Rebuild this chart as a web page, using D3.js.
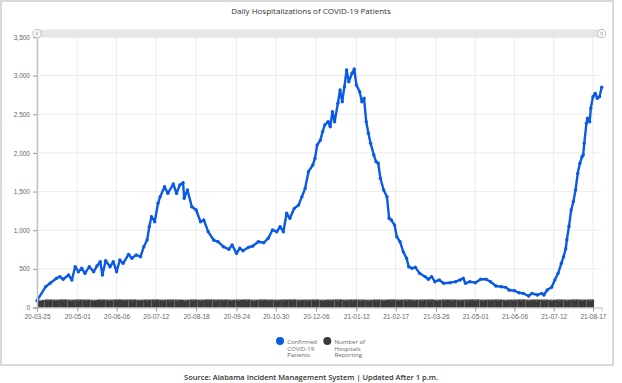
<!DOCTYPE html>
<html lang="en">
<head>
  <meta charset="utf-8" />
  <title>Daily Hospitalizations of COVID-19 Patients</title>
  <script src="https://d3js.org/d3.v7.min.js"></script>
  <style>
body {
  margin: 0;
  background: #fff;
  font-family: 'Open Sans', sans-serif;
}
svg {
  display: block;
}
.tick text {
  fill: #666;
  font-size: 6.5px;
}
  </style>
</head>
<body>
  <svg id="chart" width="622" height="383"></svg>

  <script>
    // confirmed COVID-19 patients in hospital
    var dates = [
      '2020-03-25','2020-04-02','2020-04-06','2020-04-12','2020-04-15','2020-04-18','2020-04-23','2020-04-26','2020-04-29',
      '2020-05-02','2020-05-05','2020-05-08','2020-05-12','2020-05-16','2020-05-19','2020-05-22','2020-05-24','2020-05-27','2020-05-31',
      '2020-06-03','2020-06-06','2020-06-09','2020-06-12','2020-06-17','2020-06-20','2020-06-24','2020-06-28',
      '2020-07-01','2020-07-04','2020-07-06','2020-07-08','2020-07-11','2020-07-14','2020-07-16','2020-07-20','2020-07-23','2020-07-28','2020-07-31',
      '2020-08-03','2020-08-06','2020-08-07','2020-08-10','2020-08-14','2020-08-18','2020-08-22','2020-08-25','2020-08-29',
      '2020-09-03','2020-09-07','2020-09-12','2020-09-17','2020-09-20','2020-09-24','2020-09-27','2020-09-30',
      '2020-10-05','2020-10-09','2020-10-14','2020-10-19','2020-10-23','2020-10-27','2020-10-31',
      '2020-11-03','2020-11-06','2020-11-09','2020-11-12','2020-11-16','2020-11-20','2020-11-23','2020-11-26','2020-11-29',
      '2020-12-03','2020-12-05','2020-12-07','2020-12-10','2020-12-12','2020-12-14','2020-12-17','2020-12-19','2020-12-21','2020-12-23','2020-12-26','2020-12-28','2020-12-30',
      '2021-01-01','2021-01-03','2021-01-05','2021-01-08','2021-01-10','2021-01-12','2021-01-15','2021-01-17','2021-01-19','2021-01-21','2021-01-23','2021-01-25','2021-01-28','2021-01-30',
      '2021-02-01','2021-02-03','2021-02-06','2021-02-09','2021-02-11','2021-02-13','2021-02-16','2021-02-18','2021-02-21','2021-02-24','2021-02-27',
      '2021-03-01','2021-03-04','2021-03-07','2021-03-11','2021-03-16','2021-03-19','2021-03-22','2021-03-25','2021-03-29',
      '2021-04-02','2021-04-08','2021-04-13','2021-04-17','2021-04-20','2021-04-22','2021-04-26',
      '2021-05-01','2021-05-06','2021-05-11','2021-05-15','2021-05-20','2021-05-25','2021-05-29',
      '2021-06-01','2021-06-06','2021-06-10','2021-06-14','2021-06-19','2021-06-22','2021-06-27',
      '2021-07-01','2021-07-03','2021-07-06','2021-07-10','2021-07-13','2021-07-16','2021-07-19','2021-07-21','2021-07-23','2021-07-24','2021-07-26','2021-07-28','2021-07-30',
      '2021-08-01','2021-08-03','2021-08-05','2021-08-07','2021-08-08','2021-08-09','2021-08-11','2021-08-12','2021-08-14','2021-08-15','2021-08-17','2021-08-19','2021-08-21','2021-08-23','2021-08-25'
    ];
    var confirmed = [
      88,270,313,378,399,365,420,356,528,
      463,507,442,528,463,537,593,420,606,528,
      593,463,615,572,688,637,679,657,
      787,873,1045,1175,1110,1348,1434,1563,1477,1598,1477,
      1585,1615,1413,1520,1304,1261,1110,1132,981,
      873,851,787,753,809,701,766,735,
      779,796,851,838,895,1003,981,
      1045,981,1219,1154,1283,1326,1434,1542,1757,
      1844,1930,2102,2167,2275,2361,2404,2339,2533,2404,2642,2814,2663,
      2857,3073,2921,3030,3086,2879,2792,2663,2707,2404,2254,2124,1973,1887,
      1866,1672,1520,1434,1154,1132,1067,916,851,720,637,
      528,507,520,442,399,365,399,334,356,
      313,321,334,356,378,313,334,
      321,365,365,334,278,269,261,
      226,217,191,183,149,183,162,
      183,162,226,261,356,442,572,657,760,873,1050,1261,1369,
      1520,1736,1866,1951,1973,2124,2383,2448,2404,2577,2728,2771,2707,2728,2850
    ];

    // number of hospitals reporting, one value per week starting 2020-03-25
    var hospitalWeekStart = '2020-03-25';
    var hospitals = [
      98,104,102,105,101,104,103,100,104,102,105,103,104,101,103,105,102,104,103,101,
      104,102,105,103,104,102,103,105,101,104,103,102,104,105,102,103,104,101,103,105,
      102,104,103,101,104,102,105,103,104,102,103,105,101,104,103,102,104,105,102,103,
      104,101,103,105,102,104,103,101,104,102,105,103,104
    ];

    var xTicks = ['2020-03-25','2020-05-01','2020-06-06','2020-07-12','2020-08-18','2020-09-24','2020-10-30',
                  '2020-12-06','2021-01-12','2021-02-17','2021-03-26','2021-05-01','2021-06-06','2021-07-12','2021-08-17'];
    var yTicks = [0, 500, 1000, 1500, 2000, 2500, 3000, 3500];

    var parse = d3.timeParse('%Y-%m-%d');
    var data = dates.map((d, i) => ({ date: parse(d), value: confirmed[i] }));
    var start = parse(hospitalWeekStart);
    var hosp = hospitals.map((v, i) => ({ date: d3.timeDay.offset(start, i * 7), value: v }));

    var svg = d3.select('#chart');

    // outer frame
    svg.append('rect')
      .attr('x', 1).attr('y', 1)
      .attr('width', 612).attr('height', 364)
      .attr('fill', '#fff')
      .attr('stroke', '#d9d9d9')
      .attr('stroke-width', 2);

    var plotL = 37, plotR = 601.7, plotT = 37, plotB = 307.5;

    var x = d3.scaleTime()
      .domain([data[0].date, data[data.length - 1].date])
      .range([plotL, plotR]);
    var y = d3.scaleLinear()
      .domain([0, 3500])
      .range([plotB, plotT]);

    // grid
    svg.append('g')
      .selectAll('line')
      .data(xTicks.map(parse))
      .enter().append('line')
      .attr('x1', (d) => x(d)).attr('x2', (d) => x(d))
      .attr('y1', plotT).attr('y2', plotB)
      .attr('stroke', '#ececec');
    svg.append('g')
      .selectAll('line')
      .data(yTicks)
      .enter().append('line')
      .attr('x1', plotL).attr('x2', plotR)
      .attr('y1', (d) => y(d)).attr('y2', (d) => y(d))
      .attr('stroke', '#ececec');

    // hospitals reporting, drawn as weekly columns
    var hospG = svg.append('g');
    hospG.selectAll('rect')
      .data(hosp)
      .enter().append('rect')
      .attr('x', (d) => x(d.date))
      .attr('width', (d) => Math.max(0, Math.min(x(d3.timeDay.offset(d.date, 7)), plotR) - x(d.date)))
      .attr('y', (d) => y(d.value))
      .attr('height', (d) => plotB - y(d.value))
      .attr('fill', '#3a3a3a');
    hospG.selectAll('line')
      .data(hosp)
      .enter().append('line')
      .attr('x1', (d) => x(d.date) + 2)
      .attr('x2', (d) => Math.min(x(d.date) + 5, plotR))
      .attr('y1', (d) => y(d.value) + 0.5)
      .attr('y2', (d) => y(d.value) + 0.5)
      .attr('stroke', '#8a8a8a')
      .attr('stroke-width', 1);

    // confirmed patients line
    var line = d3.line()
      .x((d) => x(d.date))
      .y((d) => y(d.value));
    svg.append('path')
      .datum(data)
      .attr('d', line)
      .attr('fill', 'none')
      .attr('stroke', '#0a5ae6')
      .attr('stroke-width', 2.4)
      .attr('stroke-linejoin', 'round');
    svg.append('g')
      .selectAll('circle')
      .data(data)
      .enter().append('circle')
      .attr('cx', (d) => x(d.date))
      .attr('cy', (d) => y(d.value))
      .attr('r', 1.7)
      .attr('fill', '#0a5ae6');

    // axes
    var yAxis = svg.append('g')
      .attr('transform', `translate(${plotL}, 0)`)
      .call(d3.axisLeft(y).tickValues(yTicks).tickSize(4).tickPadding(3).tickFormat(d3.format(',')));
    yAxis.select('.domain').attr('stroke', '#c4c4c4').attr('stroke-width', 1.5);
    yAxis.selectAll('.tick line').attr('stroke', '#999');

    var xAxis = svg.append('g')
      .attr('transform', `translate(0, ${plotB})`)
      .call(d3.axisBottom(x).tickValues(xTicks.map(parse)).tickSize(4).tickPadding(3).tickFormat(d3.timeFormat('%y-%m-%d')));
    xAxis.select('.domain').attr('stroke', '#c4c4c4');
    xAxis.selectAll('.tick line').attr('stroke', '#999');

    // navigator bar with handles
    svg.append('rect')
      .attr('x', plotL).attr('y', 29.5)
      .attr('width', plotR - plotL).attr('height', 8)
      .attr('fill', '#e6e6e6');
    [plotL, plotR].forEach((hx) => {
      svg.append('circle')
        .attr('cx', hx).attr('cy', 33.5).attr('r', 4.2)
        .attr('fill', '#fff').attr('stroke', '#bbb');
      svg.append('line')
        .attr('x1', hx - 0.8).attr('x2', hx - 0.8)
        .attr('y1', 31.5).attr('y2', 35.5)
        .attr('stroke', '#999').attr('stroke-width', 0.6);
      svg.append('line')
        .attr('x1', hx + 0.8).attr('x2', hx + 0.8)
        .attr('y1', 31.5).attr('y2', 35.5)
        .attr('stroke', '#999').attr('stroke-width', 0.6);
    });

    // title
    svg.append('text')
      .attr('x', 311).attr('y', 14)
      .attr('text-anchor', 'middle')
      .attr('fill', '#333')
      .style('font-size', '8px')
      .text('Daily Hospitalizations of COVID-19 Patients');

    // legend
    var legend = [
      { color: '#0a5ae6', lines: ['Confirmed', 'COVID-19', 'Patients'], x: 280 },
      { color: '#3a3a3a', lines: ['Number of', 'Hospitals', 'Reporting'], x: 327.3 }
    ];
    legend.forEach((l) => {
      svg.append('circle')
        .attr('cx', l.x).attr('cy', 341).attr('r', 4)
        .attr('fill', l.color);
      var t = svg.append('text')
        .attr('x', l.x + 7.3).attr('y', 344)
        .attr('fill', '#666')
        .style('font-size', '6px');
      l.lines.forEach((s, i) => {
        t.append('tspan')
          .attr('x', l.x + 7.3)
          .attr('dy', i === 0 ? 0 : 6.7)
          .text(s);
      });
    });

    // source note
    svg.append('text')
      .attr('x', 311).attr('y', 380)
      .attr('text-anchor', 'middle')
      .attr('fill', '#333')
      .style('font-size', '7.5px')
      .style('font-weight', 600)
      .text('Source: Alabama Incident Management System | Updated After 1 p.m.');
  </script>
</body>
</html>
